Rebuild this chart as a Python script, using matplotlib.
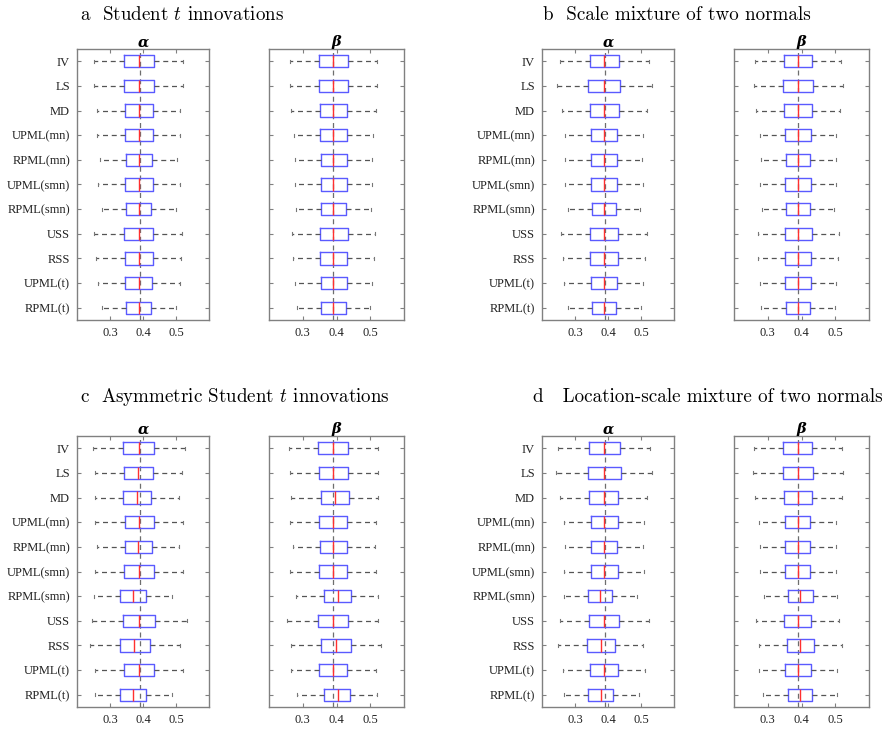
import matplotlib
matplotlib.use('Agg')
import matplotlib.pyplot as plt

plt.rcParams['mathtext.fontset'] = 'cm'

methods = ['IV', 'LS', 'MD', 'UPML(mn)', 'RPML(mn)', 'UPML(smn)',
           'RPML(smn)', 'USS', 'RSS', 'UPML(t)', 'RPML(t)']
true_value = 0.39
xticks = [0.3, 0.4, 0.5]

# each row: lower whisker, q1, median, q3, upper whisker
a_alpha = [[0.252, 0.341, 0.388, 0.433, 0.521], [0.252, 0.341, 0.388, 0.433, 0.521],
           [0.262, 0.346, 0.388, 0.430, 0.512], [0.262, 0.346, 0.388, 0.430, 0.512],
           [0.271, 0.348, 0.388, 0.427, 0.503], [0.264, 0.346, 0.388, 0.429, 0.511],
           [0.275, 0.350, 0.388, 0.425, 0.499], [0.253, 0.342, 0.388, 0.431, 0.519],
           [0.259, 0.344, 0.388, 0.429, 0.514], [0.264, 0.346, 0.388, 0.428, 0.511],
           [0.276, 0.349, 0.388, 0.424, 0.499]]
a_beta = [[0.261, 0.348, 0.390, 0.434, 0.521], [0.261, 0.348, 0.390, 0.434, 0.521],
          [0.266, 0.350, 0.390, 0.432, 0.516], [0.274, 0.352, 0.390, 0.430, 0.508],
          [0.277, 0.353, 0.390, 0.430, 0.504], [0.277, 0.353, 0.390, 0.430, 0.504],
          [0.281, 0.355, 0.390, 0.428, 0.501], [0.269, 0.352, 0.391, 0.434, 0.515],
          [0.272, 0.352, 0.391, 0.432, 0.511], [0.277, 0.353, 0.391, 0.430, 0.504],
          [0.283, 0.355, 0.391, 0.428, 0.500]]
b_alpha = [[0.254, 0.344, 0.389, 0.434, 0.524], [0.245, 0.340, 0.389, 0.437, 0.532],
           [0.260, 0.345, 0.389, 0.432, 0.518], [0.269, 0.348, 0.389, 0.427, 0.506],
           [0.271, 0.348, 0.389, 0.427, 0.504], [0.270, 0.348, 0.389, 0.427, 0.505],
           [0.279, 0.352, 0.389, 0.425, 0.498], [0.258, 0.345, 0.389, 0.431, 0.518],
           [0.264, 0.345, 0.389, 0.430, 0.512], [0.267, 0.348, 0.389, 0.427, 0.507],
           [0.279, 0.352, 0.389, 0.425, 0.499]]
b_beta = [[0.262, 0.347, 0.389, 0.432, 0.517], [0.259, 0.346, 0.389, 0.434, 0.522],
          [0.264, 0.348, 0.389, 0.431, 0.515], [0.276, 0.352, 0.389, 0.427, 0.503],
          [0.279, 0.353, 0.389, 0.426, 0.501], [0.277, 0.352, 0.389, 0.427, 0.502],
          [0.283, 0.355, 0.389, 0.425, 0.495], [0.270, 0.350, 0.389, 0.430, 0.511],
          [0.272, 0.350, 0.389, 0.429, 0.509], [0.276, 0.352, 0.389, 0.427, 0.503],
          [0.281, 0.354, 0.389, 0.425, 0.498]]
c_alpha = [[0.248, 0.340, 0.388, 0.433, 0.526], [0.254, 0.342, 0.385, 0.430, 0.518],
           [0.254, 0.340, 0.382, 0.425, 0.509], [0.256, 0.344, 0.388, 0.433, 0.521],
           [0.262, 0.344, 0.385, 0.427, 0.509], [0.254, 0.343, 0.388, 0.433, 0.522],
           [0.252, 0.330, 0.369, 0.409, 0.488], [0.245, 0.340, 0.388, 0.436, 0.534],
           [0.238, 0.330, 0.374, 0.421, 0.512], [0.254, 0.343, 0.388, 0.432, 0.521],
           [0.254, 0.331, 0.371, 0.409, 0.488]]
c_beta = [[0.258, 0.346, 0.391, 0.435, 0.522], [0.261, 0.349, 0.391, 0.435, 0.522],
          [0.266, 0.353, 0.395, 0.437, 0.522], [0.263, 0.349, 0.390, 0.432, 0.516],
          [0.270, 0.352, 0.390, 0.432, 0.513], [0.263, 0.349, 0.390, 0.432, 0.516],
          [0.281, 0.362, 0.404, 0.442, 0.522], [0.252, 0.344, 0.390, 0.435, 0.524],
          [0.266, 0.355, 0.398, 0.442, 0.531], [0.266, 0.349, 0.390, 0.432, 0.516],
          [0.283, 0.362, 0.403, 0.440, 0.519]]
d_alpha = [[0.248, 0.342, 0.389, 0.435, 0.528], [0.243, 0.340, 0.389, 0.438, 0.533],
           [0.256, 0.343, 0.389, 0.430, 0.519], [0.267, 0.348, 0.389, 0.429, 0.509],
           [0.271, 0.349, 0.388, 0.427, 0.505], [0.267, 0.348, 0.389, 0.429, 0.508],
           [0.267, 0.340, 0.377, 0.412, 0.487], [0.254, 0.343, 0.389, 0.433, 0.523],
           [0.247, 0.336, 0.379, 0.421, 0.505], [0.264, 0.346, 0.389, 0.430, 0.511],
           [0.267, 0.340, 0.379, 0.416, 0.493]]
d_beta = [[0.258, 0.344, 0.389, 0.432, 0.519], [0.256, 0.344, 0.389, 0.434, 0.524],
          [0.262, 0.347, 0.389, 0.432, 0.519], [0.275, 0.351, 0.389, 0.426, 0.502],
          [0.278, 0.352, 0.389, 0.425, 0.501], [0.276, 0.351, 0.389, 0.426, 0.502],
          [0.288, 0.361, 0.397, 0.433, 0.505], [0.266, 0.349, 0.389, 0.429, 0.512],
          [0.273, 0.356, 0.397, 0.437, 0.521], [0.275, 0.351, 0.389, 0.427, 0.504],
          [0.285, 0.359, 0.395, 0.431, 0.505]]

panel_titles = ['a  Student $t$ innovations', 'b  Scale mixture of two normals',
                'c  Asymmetric Student $t$ innovations',
                'd   Location-scale mixture of two normals']

W, H = 891, 729
fig = plt.figure(figsize=(W / 100, H / 100), dpi=100)

dash = (0, (4, 3))
gray = '#808080'


def draw(rect, rows, sym, labels):
    left, top, width, height = rect
    ax = fig.add_axes([left / W, 1 - (top + height) / H, width / W, height / H])
    stats = [dict(whislo=r[0], q1=r[1], med=r[2], q3=r[3], whishi=r[4], fliers=[])
             for r in rows]
    ax.axvline(true_value, color='#6e6e6e', ls=dash, lw=0.9, zorder=1)
    ax.bxp(stats, positions=range(1, len(rows) + 1), widths=0.5,
           orientation='horizontal', showfliers=False, manage_ticks=False,
           capwidths=0.12,
           boxprops=dict(color='#5a5aff', lw=1.0),
           whiskerprops=dict(color='#555555', ls=dash, lw=0.9),
           capprops=dict(color='#777777', lw=0.8),
           medianprops=dict(color='#ff3030', lw=1.0))
    ax.set_xlim(0.2, 0.6)
    ax.set_ylim(len(rows) + 0.5, 0.5)
    ax.set_xticks(xticks)
    ax.set_xticklabels([f'{t:.1f}' for t in xticks])
    ax.set_yticks(range(1, len(rows) + 1))
    ax.set_yticklabels(methods if labels else [])
    ax.tick_params(direction='in', length=3, color=gray, top=True, right=True,
                   labelsize=9, labelcolor='#222222', labelfontfamily='Liberation Serif',
                   pad=5)
    for s in ax.spines.values():
        s.set_color(gray)
        s.set_linewidth(1.0)
    ax.set_title(sym, fontsize=10.5, fontweight='bold', fontstyle='italic',
                 family='DejaVu Serif', pad=2)
    return ax


data = [(a_alpha, a_beta), (b_alpha, b_beta), (c_alpha, c_beta), (d_alpha, d_beta)]
lefts = [(77, 269), (542, 734), (77, 269), (542, 734)]
tops = [49, 49, 436, 436]
title_pos = [(80, 15), (543, 15), (80, 397), (533, 397)]

for i in range(4):
    al, be = data[i]
    draw((lefts[i][0], tops[i], 132, 271), al, 'α', True)
    draw((lefts[i][1], tops[i], 135, 271), be, 'β', False)
    fig.text(title_pos[i][0] / W, 1 - title_pos[i][1] / H, panel_titles[i],
             fontsize=13.7, family='cmr10', ha='left', va='center')

fig.savefig('out.png', dpi=100)
